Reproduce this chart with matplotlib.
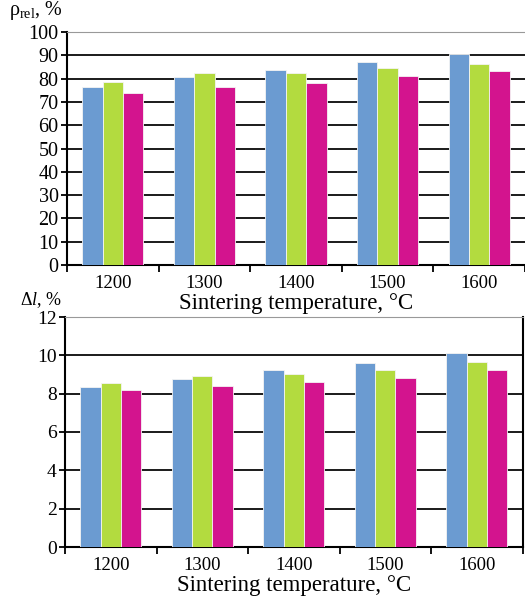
# ------- Sintering: relative density and shrinkage vs temperature -------

import numpy as np
import matplotlib
matplotlib.use("Agg")
import matplotlib.pyplot as plt

# ---------- Data ----------

temps = ["1200", "1300", "1400", "1500", "1600"]

rho_blue = [76.4, 80.6, 83.7, 87.2, 90.4]
rho_green = [78.6, 82.4, 82.4, 84.4, 86.3]
rho_pink = [73.8, 76.2, 78.3, 81.1, 83.1]

dl_blue = [8.35, 8.78, 9.26, 9.60, 10.12]
dl_green = [8.57, 8.91, 9.03, 9.22, 9.64]
dl_pink = [8.18, 8.40, 8.62, 8.81, 9.22]

colors = ["#6b9bd1", "#b3db3f", "#d3148e"]

# ---------- Style ----------

plt.rcParams["font.family"] = ["Liberation Serif", "DejaVu Serif"]
plt.rcParams["mathtext.fontset"] = "custom"
plt.rcParams["mathtext.rm"] = "Liberation Serif"
plt.rcParams["mathtext.it"] = "Liberation Serif:italic"

fig = plt.figure(figsize=(5.25, 6.07), dpi=100)
W, H = 525, 607

ax1 = fig.add_axes([67 / W, 1 - 265 / H, (525 - 67) / W, 233 / H])
ax2 = fig.add_axes([65 / W, 1 - 547 / H, (522.5 - 65) / W, 230 / H])

x = np.arange(len(temps))
bw = 0.222


def draw(ax, series, ymax, ystep, ysize):
    for i, (vals, c) in enumerate(zip(series, colors)):
        ax.bar(x + (i - 1) * bw, vals, bw, color=c, edgecolor="#f4f4f4",
               linewidth=0.6, zorder=3)
    ax.set_xlim(-0.5, len(temps) - 0.5)
    ax.set_ylim(0, ymax)
    ax.set_yticks(np.arange(0, ymax + 0.1, ystep))
    ax.yaxis.grid(True, color="#1a1a1a", linewidth=1.4, zorder=0)
    ax.set_axisbelow(True)
    ax.set_xticks(x)
    ax.set_xticklabels(temps, fontsize=13.5)
    ax.set_xticks(np.arange(-0.5, len(temps)), minor=True)
    ax.tick_params(axis="x", which="major", length=0, pad=7)
    ax.tick_params(axis="x", which="minor", length=5, width=1.3,
                   direction="out", color="black")
    ax.tick_params(axis="y", length=4, width=1.3, direction="out",
                   labelsize=ysize, pad=2)
    for s in ["left", "bottom"]:
        ax.spines[s].set_linewidth(1.5)
        ax.spines[s].set_color("black")
    ax.spines["top"].set_linewidth(0.8)
    ax.spines["top"].set_color("#999999")
    ax.set_xlabel("Sintering temperature, °C", fontsize=16.5, labelpad=1)


draw(ax1, [rho_blue, rho_green, rho_pink], 100, 10, 14.5)
ax1.spines["right"].set_visible(False)

draw(ax2, [dl_blue, dl_green, dl_pink], 12, 2, 14)
ax2.spines["right"].set_linewidth(1.5)
ax2.spines["right"].set_color("black")

fig.text(9 / W, 1 - 15 / H, "ρ$_{\\mathrm{rel}}$, %", fontsize=14.5, va="baseline")
fig.text(20 / W, 1 - 305 / H, "Δ$\\mathit{l}$, %", fontsize=13, va="baseline")

fig.savefig("out.png", dpi=100)
